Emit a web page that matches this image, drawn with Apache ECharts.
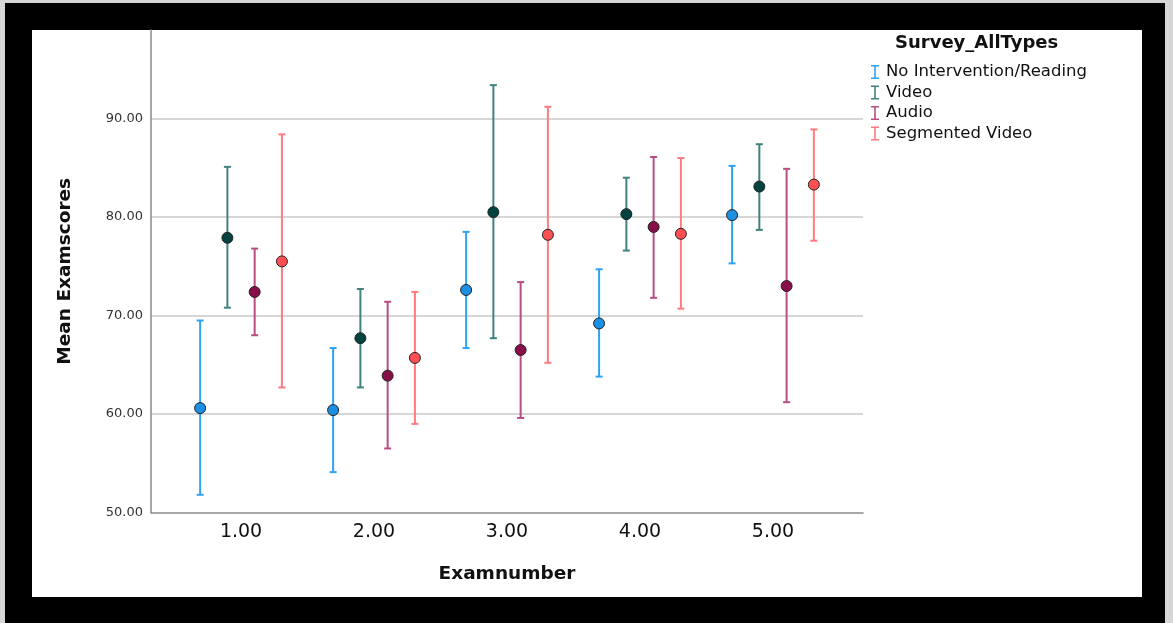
<!DOCTYPE html>
<html>
<head>
<meta charset="utf-8">
<title>Mean Examscores by Examnumber</title>
<script src="https://cdn.jsdelivr.net/npm/echarts@6/dist/echarts.min.js"></script>
<style>
  html, body { margin: 0; padding: 0; width: 1173px; height: 623px; overflow: hidden; background: #d6d6d6; }
  #frame { position: absolute; left: 5px; top: 3px; width: 1160px; height: 620px; background: #000; }
  #paper { position: absolute; left: 32px; top: 30px; width: 1110px; height: 567px; background: #fff; }
  #chart { position: absolute; left: 0; top: 0; width: 1173px; height: 623px; }
</style>
</head>
<body>
<div id="frame"></div>
<div id="paper"></div>
<div id="chart"></div>
<script>
// Exam numbers on the x axis
const examNumbers = [1, 2, 3, 4, 5];
const yTicks = [50, 60, 70, 80, 90];

// Survey types (legend order)
const groups = ['No Intervention/Reading', 'Video', 'Audio', 'Segmented Video'];

// Mean exam score per exam, and 95% CI lower / upper bounds
const meanNoIntervention = [60.6, 60.4, 72.6, 69.2, 80.2];
const lowNoIntervention  = [51.8, 54.1, 66.7, 63.8, 75.3];
const highNoIntervention = [69.5, 66.7, 78.5, 74.7, 85.2];

const meanVideo = [77.9, 67.7, 80.5, 80.3, 83.1];
const lowVideo  = [70.8, 62.7, 67.7, 76.6, 78.7];
const highVideo = [85.1, 72.7, 93.4, 84.0, 87.4];

const meanAudio = [72.4, 63.9, 66.5, 79.0, 73.0];
const lowAudio  = [68.0, 56.5, 59.6, 71.8, 61.2];
const highAudio = [76.8, 71.4, 73.4, 86.1, 84.9];

const meanSegmented = [75.5, 65.7, 78.2, 78.3, 83.3];
const lowSegmented  = [62.7, 59.0, 65.2, 70.7, 77.6];
const highSegmented = [88.4, 72.4, 91.2, 86.0, 88.9];

const means = [meanNoIntervention, meanVideo, meanAudio, meanSegmented];
const lows  = [lowNoIntervention, lowVideo, lowAudio, lowSegmented];
const highs = [highNoIntervention, highVideo, highAudio, highSegmented];

// Cluster layout: horizontal offset of each survey type within an exam
const clusterOffsets = [-0.3075, -0.1025, 0.1025, 0.3075];

const dotColors = ['#1b8fe3', '#00433f', '#88104a', '#ff4f52'];
const barColors = ['#2ea3f2', '#3f837f', '#b84e82', '#ff7b80'];

const FONT = '"DejaVu Sans", "Liberation Sans", sans-serif';

const series = [];
groups.forEach(function (name, g) {
  const barData = examNumbers.map(function (ex, i) {
    return [ex + clusterOffsets[g], lows[g][i], highs[g][i]];
  });
  const dotData = examNumbers.map(function (ex, i) {
    return [ex + clusterOffsets[g], means[g][i]];
  });
  series.push({
    name: name,
    type: 'custom',
    data: barData,
    encode: { x: 0, y: [1, 2] },
    itemStyle: { color: barColors[g] },
    z: 2,
    renderItem: function (params, api) {
      const x = api.value(0);
      const lo = api.coord([x, api.value(1)]);
      const hi = api.coord([x, api.value(2)]);
      const cap = 3.5;
      const style = { stroke: barColors[g], lineWidth: 2 };
      return {
        type: 'group',
        children: [
          { type: 'line', shape: { x1: lo[0], y1: lo[1], x2: hi[0], y2: hi[1] }, style: style },
          { type: 'line', shape: { x1: hi[0] - cap, y1: hi[1], x2: hi[0] + cap, y2: hi[1] }, style: style },
          { type: 'line', shape: { x1: lo[0] - cap, y1: lo[1], x2: lo[0] + cap, y2: lo[1] }, style: style }
        ]
      };
    }
  });
  series.push({
    name: name,
    type: 'scatter',
    data: dotData,
    symbol: 'circle',
    symbolSize: 11,
    z: 3,
    itemStyle: { color: dotColors[g], borderColor: '#222', borderWidth: 1, opacity: 1 }
  });
});

const chart = echarts.init(document.getElementById('chart'), null, { renderer: 'canvas' });
chart.setOption({
  animation: false,
  backgroundColor: 'transparent',
  grid: { left: 151, right: 310, top: 30, bottom: 110.5, containLabel: false },
  title: {
    text: 'Survey_AllTypes',
    left: 890,
    top: 29,
    textStyle: { fontFamily: FONT, fontSize: 18, fontWeight: 'bold', color: '#111' }
  },
  legend: {
    orient: 'vertical',
    left: 866,
    top: 58,
    itemGap: 2.5,
    itemWidth: 8,
    itemHeight: 14,
    icon: 'path://M0,0H8V1.6H4.8V12.4H8V14H0V12.4H3.2V1.6H0Z',
    data: groups.map(function (n, g) {
      return { name: n, itemStyle: { color: barColors[g] } };
    }),
    textStyle: { fontFamily: FONT, fontSize: 16.5, lineHeight: 18, color: '#111', padding: [0, 0, 0, 2] }
  },
  xAxis: {
    type: 'value',
    min: 0.323,
    max: 5.677,
    name: 'Examnumber',
    nameLocation: 'middle',
    nameGap: 52,
    nameTextStyle: { fontFamily: FONT, fontSize: 18.5, fontWeight: 'bold', color: '#111' },
    axisLine: { show: true, lineStyle: { color: '#8a8a8a', width: 1.5 } },
    axisTick: { show: false },
    splitLine: { show: false },
    axisLabel: {
      customValues: examNumbers,
      margin: 10,
      fontFamily: FONT,
      fontSize: 19,
      color: '#111',
      formatter: function (v) { return v.toFixed(2); }
    }
  },
  yAxis: {
    type: 'value',
    min: yTicks[0],
    max: 99,
    interval: 10,
    name: 'Mean Examscores',
    nameLocation: 'middle',
    nameGap: 76,
    nameTextStyle: { fontFamily: FONT, fontSize: 18.5, fontWeight: 'bold', color: '#111' },
    axisLine: { show: true, lineStyle: { color: '#8a8a8a', width: 1.5 } },
    axisTick: { show: false },
    splitLine: { show: true, showMinLine: false, showMaxLine: false, lineStyle: { color: '#c8c8c8', width: 1.5 } },
    axisLabel: {
      showMaxLabel: false,
      margin: 8,
      fontFamily: FONT,
      fontSize: 13,
      color: '#333',
      formatter: function (v) { return yTicks.indexOf(v) >= 0 ? v.toFixed(2) : ''; }
    }
  },
  series: series
});
</script>
</body>
</html>
